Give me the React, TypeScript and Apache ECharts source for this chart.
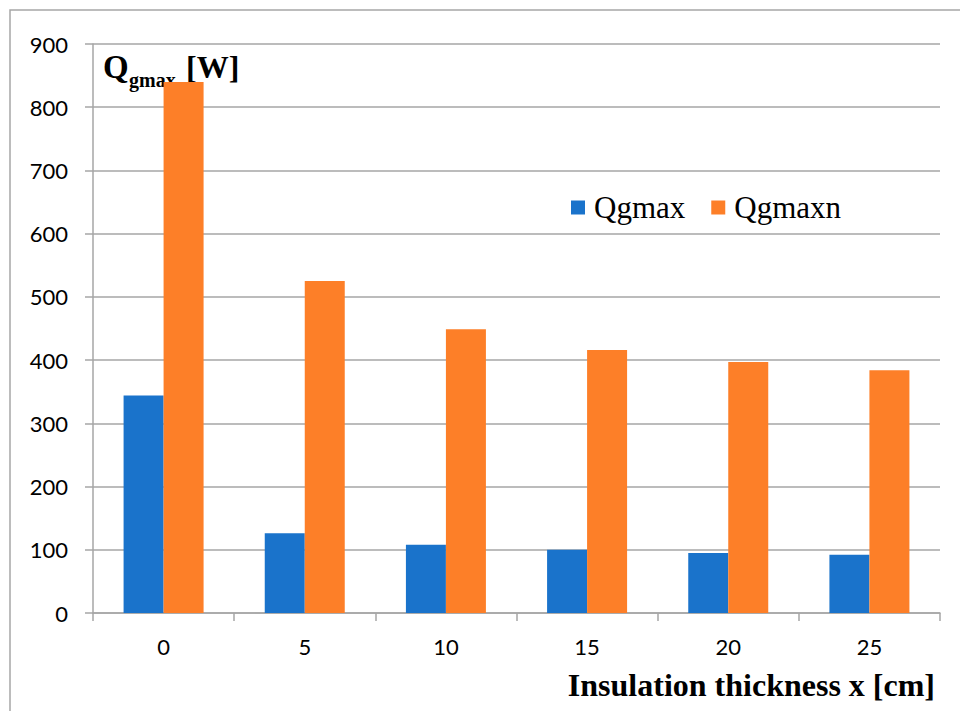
import React, { useEffect, useRef } from "react";
import * as echarts from "echarts";

const categories = ["0", "5", "10", "15", "20", "25"];
const qgmax = [344, 126, 108, 100, 95, 92];
const qgmaxn = [840, 525, 449, 416, 397, 384];
const seriesNames = ["Qgmax", "Qgmaxn"];

export default function App() {
  const ref = useRef<HTMLDivElement>(null);
  useEffect(() => {
    document.body.style.margin = "0";
    const chart = echarts.init(ref.current!, null, { renderer: "svg" });
    const gray = "#A6A6A6";
    const serifBold = { fontFamily: "Liberation Serif", fontWeight: "bold", fill: "#000" };
    chart.setOption({
      animation: false,
      backgroundColor: "#ffffff",
      grid: { left: 93, right: 20, top: 44, bottom: 98 },
      legend: {
        data: seriesNames,
        left: 566,
        top: 187,
        itemWidth: 14,
        itemHeight: 14,
        itemGap: 26,
        icon: "rect",
        textStyle: { fontFamily: "Liberation Serif", fontSize: 31, color: "#000", padding: [0, 0, 0, 4] },
      },
      graphic: [
        {
          type: "rect",
          shape: { x: 10, y: 10, width: 1000, height: 800 },
          style: { fill: "none", stroke: gray, lineWidth: 1.5 },
          silent: true,
        },
        {
          type: "text",
          style: { ...serifBold, x: 103, y: 67, text: "Q", fontSize: 33, verticalAlign: "middle" },
        },
        {
          type: "text",
          style: { ...serifBold, x: 129, y: 80, text: "gmax", fontSize: 20, verticalAlign: "middle" },
        },
        {
          type: "text",
          style: { ...serifBold, x: 186, y: 67, text: "[W]", fontSize: 32, verticalAlign: "middle" },
        },
        {
          type: "text",
          style: {
            ...serifBold,
            x: 935,
            y: 685,
            text: "Insulation thickness x [cm]",
            fontSize: 32,
            align: "right",
            verticalAlign: "middle",
          },
        },
      ],
      xAxis: {
        type: "category",
        data: categories,
        boundaryGap: true,
        axisLine: { lineStyle: { color: gray, width: 1.5 } },
        axisTick: { show: true, length: 8, lineStyle: { color: gray, width: 1.5 } },
        axisLabel: { fontFamily: "Lato", fontSize: 22, color: "#000", margin: 22 },
      },
      yAxis: {
        type: "value",
        min: 0,
        max: 900,
        interval: 100,
        axisLine: { show: true, lineStyle: { color: gray, width: 1.5 } },
        axisTick: { show: true, length: 8, lineStyle: { color: gray, width: 1.5 } },
        splitLine: { lineStyle: { color: gray, width: 1.5 } },
        axisLabel: { fontFamily: "Lato", fontSize: 22, color: "#000", margin: 25 },
      },
      series: [
        {
          name: seriesNames[0],
          type: "bar",
          data: qgmax,
          barWidth: 40,
          barGap: "0%",
          itemStyle: { color: "#1A73CB" },
        },
        {
          name: seriesNames[1],
          type: "bar",
          data: qgmaxn,
          barWidth: 40,
          barGap: "0%",
          itemStyle: { color: "#FD7F28" },
        },
      ],
    });
    return () => chart.dispose();
  }, []);
  return <div ref={ref} style={{ width: 960, height: 711 }} />;
}
